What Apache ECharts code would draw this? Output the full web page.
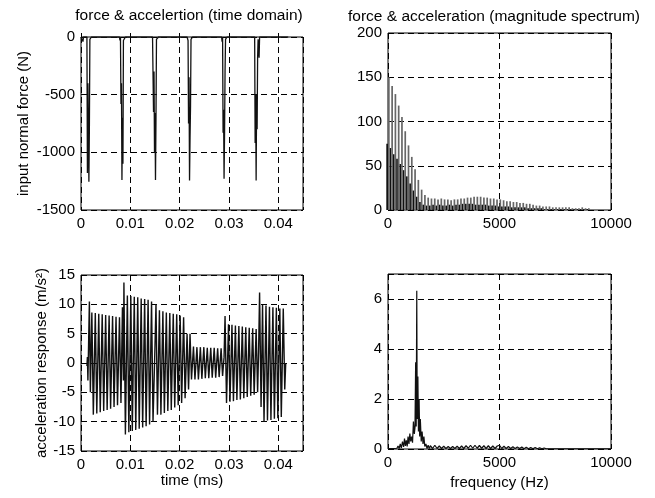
<!DOCTYPE html>
<html>
<head>
<meta charset="utf-8">
<script src="https://cdn.jsdelivr.net/npm/echarts@6/dist/echarts.min.js"></script>
<style>html,body{margin:0;padding:0;background:#fff;}#c{width:655px;height:498px;}</style>
</head>
<body>
<div id="c"></div>
<script>
// ---- data ----
const titleTop = ['force & accelertion (time domain)', 'force & acceleration (magnitude spectrum)'];
const xNames = ['time (ms)', 'frequency (Hz)'];
const yNames = ['input normal force (N)', 'acceleration response (m/s²)'];

// top-left: input force vs time
const forceTime = [0.0000,0.0003,0.0004,0.0005,0.0012,0.0013,0.0014,0.0015,0.0016,0.0017,0.0018,0.0020,0.0021,
  0.0078,0.0079,0.0080,0.0081,0.0082,0.0083,0.0084,0.0085,0.0086,0.0089,0.0090,
  0.0145,0.0147,0.0148,0.0149,0.0150,0.0151,0.0152,0.0153,0.0156,0.0157,
  0.0215,0.0217,0.0218,0.0219,0.0220,0.0221,0.0222,0.0223,0.0225,0.0226,
  0.0285,0.0286,0.0287,0.0288,0.0289,0.0290,0.0291,0.0292,0.0293,0.0295,0.0296,
  0.0352,0.0353,0.0354,0.0355,0.0356,0.0357,0.0358,0.0359,0.0361,0.0362,0.0420];
const forceValue = [0,0,-40,0,0,-1180,-400,-800,-1255,-780,-20,-20,0,
  0,-30,0,-580,-400,-1240,-700,-1100,-30,-20,0,
  0,-650,-300,-1000,-660,-1240,-700,-20,-20,0,
  0,-30,-750,-350,-1245,-880,-600,-20,-20,0,
  0,-40,0,-830,-630,-1230,-830,-300,-20,-20,0,
  0,-920,-500,-1245,-500,-800,-180,-20,-180,0,0];

// bottom-left: acceleration response vs time
const accelTime = [0.0012,0.0013,0.0014,0.0017,0.0019,0.0022,0.0025,0.0029,0.0032,0.0036,0.0039,0.0043,0.0046,0.0050,0.0053,0.0057,0.0060,0.0064,0.0067,0.0071,0.0074,0.0078,0.0081,
  0.0084,0.0086,0.0087,0.0090,0.0094,0.0097,0.0101,0.0104,0.0108,0.0111,0.0115,0.0118,0.0122,0.0125,0.0129,0.0132,0.0136,0.0139,0.0143,0.0146,
  0.0150,0.0152,0.0155,0.0159,0.0162,0.0166,0.0169,0.0173,0.0176,0.0180,0.0183,0.0187,0.0190,0.0194,0.0197,0.0201,0.0204,0.0208,0.0211,0.0215,0.0218,
  0.0221,0.0224,0.0228,0.0231,0.0235,0.0238,0.0242,0.0245,0.0249,0.0252,0.0256,0.0259,0.0263,0.0266,0.0270,0.0273,0.0277,0.0280,0.0284,0.0287,
  0.0290,0.0292,0.0295,0.0299,0.0302,0.0306,0.0309,0.0313,0.0316,0.0320,0.0323,0.0327,0.0330,0.0334,0.0337,0.0341,0.0344,0.0348,0.0351,0.0355,0.0358,
  0.0360,0.0362,0.0365,0.0368,0.0371,0.0375,0.0378,0.0382,0.0385,0.0389,0.0392,0.0396,0.0399,0.0403,0.0406,0.0410,0.0413,0.0415];
const accelValue = [-0.5,1.0,-3.0,10.5,-5.0,8.6,-8.8,8.5,-8.6,8.4,-8.4,8.3,-8.2,8.2,-8.0,8.1,-7.8,8.0,-7.5,7.9,-7.2,7.8,-6.8,
  9.5,-3.0,13.7,-12.2,11.5,-11.8,11.4,-11.6,11.3,-11.4,11.2,-11.2,11.0,-11.0,10.9,-10.8,10.8,-10.5,10.5,-10.0,
  3.0,10.0,-8.8,9.0,-8.8,8.8,-8.5,8.6,-8.2,8.5,-8.0,8.4,-7.6,8.3,-7.2,8.1,-6.8,7.8,-6.0,5.0,-4.5,
  5.0,-2.8,2.8,-2.8,2.7,-2.8,2.7,-2.7,2.7,-2.6,2.6,-2.6,2.6,-2.5,2.6,-2.5,2.5,-2.4,2.5,-2.2,
  1.0,8.0,-6.8,6.6,-6.6,6.5,-6.5,6.4,-6.3,6.3,-6.2,6.2,-6.0,6.1,-5.8,6.0,-5.6,5.9,-5.4,5.8,-5.0,
  2.0,12.0,-7.5,9.9,-10.0,9.8,-9.8,9.6,-9.7,9.5,-9.5,9.4,-9.4,9.3,-9.2,9.3,-4.5,0];

// top-right: magnitude spectrum (harmonics)
const specHz = [0,147,294,441,588,735,882,1029,1176,1323,1470,1617,1764,1911,2058,2205,2352,2499,2646,2793,2940,3087,3234,3381,3528,3675,3822,3969,4116,4263,4410,4557,4704,4851,4998,5145,5292,5439,5586,5733,5880,6027,6174,6321,6468,6615,6762,6909,7056,7203,7350,7497,7644,7791,7938,8085,8232,8379,8526,8673,8820,8967];
const specGray = [150,140,131,118,105,89,73,60,46,34, 23,17,14,13,13,12,13,12,12,11, 12,12,13,13,14,14,15,15,15,14, 14,13,13,12,12,11,10,10,9,9, 8,8,7,7,6,5,5,4,4,4, 3,3,3,3,3,3,2,2,2,3, 2,2];
const specBlack = [75,70,63,58,52,45,38,30,22,15, 9,6,5,5,6,5,6,5,5,6, 5,6,6,7,7,7,7,6,6,6, 6,5,5,5,4,4,4,4,3,3, 3,3,3,2,2,2,2,2,1,1, 1,1,1,1,1,1,1,1,1,1, 1,1];

// bottom-right: acceleration magnitude spectrum
const accSpecHz = [0,150,300,400,450,500,550,600,650,700,740,780,820,860,900,940,980,1020,1060,1100,1140,1180,1210,1240,1265,1290,1310,1340,1365,1395,1420,1450,1490,1530,1570,1610,1650,1700,1750,1800,1850,1900,2000,2100,2200,2300,2400,2500,2600,2700,2800,2900,3000,3100,3200,3300,3400,3500,3600,3700,3800,3900,4000,4100,4200,4300,4400,4500,4600,4700,4800,4900,5000,5100,5200,5300,5400,5500,5600,5700,5800,5900,6000,6100,6200,6300,6400,6500,6600,6700,6800,6900,7000,7100,8000,9000,10000];
const accSpecMag = [0.02,0.02,0.02,0.03,0.12,0.02,0.2,0.04,0.3,0.08,0.42,0.12,0.35,0.1,0.5,0.2,0.62,0.3,0.5,0.25,1.1,0.6,0.85,3.47,0.9,6.33,1.2,2.9,0.7,2.0,0.5,1.2,0.3,0.7,0.2,0.5,0.1,0.2,0.02,0.15,0.02,0.13,0.02,0.15,0.02,0.12,0.02,0.11,0.02,0.1,0.02,0.1,0.02,0.11,0.02,0.12,0.02,0.13,0.03,0.15,0.03,0.15,0.03,0.14,0.03,0.13,0.02,0.13,0.02,0.12,0.02,0.12,0.15,0.02,0.11,0.02,0.1,0.02,0.09,0.02,0.08,0.02,0.08,0.01,0.07,0.01,0.06,0.01,0.06,0.01,0.05,0.01,0.04,0.01,0.01,0.01,0.01];

// ---- chart ----
const FF = "'Liberation Sans', Arial, sans-serif";
const zip = (a, b) => a.map((v, i) => [v, b[i]]);
const fmt = v => String(+(+v).toFixed(4));
const FS = 15;

function ax(grid, min, max, interval, name, gap) {
  const onTick = Math.abs(max / interval - Math.round(max / interval)) < 1e-9;
  return {
    type: 'value', gridIndex: grid, min, max, interval,
    name: name || '', nameLocation: 'middle', nameGap: gap || 0,
    nameTextStyle: { color: '#000', fontSize: FS, fontFamily: FF },
    axisLine: { show: false },
    axisTick: { show: true, inside: true, length: 4, lineStyle: { color: '#000' } },
    axisLabel: { color: '#000', fontSize: FS, fontFamily: FF, margin: 6, formatter: fmt, showMaxLabel: onTick },
    splitLine: { show: true, lineStyle: { color: '#000', type: [6, 4], width: 1 } }
  };
}

const grids = [
  { left: 81, top: 37, width: 222, height: 173 },
  { left: 388, top: 33, width: 223, height: 177 },
  { left: 81, top: 275, width: 222, height: 176 },
  { left: 388, top: 274, width: 223, height: 175 }
].map(g => Object.assign(g, { show: true, borderColor: '#000', borderWidth: 1, backgroundColor: 'transparent' }));

const option = {
  backgroundColor: '#fff',
  animation: false,
  textStyle: { fontFamily: FF },
  graphic: [
    { type: 'text', x: 189, y: 16, style: { text: titleTop[0], textAlign: 'center', textVerticalAlign: 'middle', fontSize: 15.5, fontFamily: FF, fill: '#000' } },
    { type: 'text', x: 494, y: 17, style: { text: titleTop[1], textAlign: 'center', textVerticalAlign: 'middle', fontSize: 15.5, fontFamily: FF, fill: '#000' } }
  ],
  grid: grids,
  xAxis: [
    ax(0, 0, 0.045, 0.01),
    ax(1, 0, 10000, 5000),
    ax(2, 0, 0.045, 0.01, xNames[0], 19),
    ax(3, 0, 10000, 5000, xNames[1], 26)
  ],
  yAxis: [
    ax(0, -1500, 0, 500, yNames[0], 50),
    ax(1, 0, 200, 50),
    ax(2, -15, 15, 5, yNames[1], 30),
    ax(3, 0, 7, 2)
  ],
  series: [
    { type: 'line', xAxisIndex: 0, yAxisIndex: 0, data: zip(forceTime, forceValue), showSymbol: false,
      lineStyle: { color: '#111', width: 1.3 }, clip: true },
    { type: 'bar', xAxisIndex: 1, yAxisIndex: 1, data: zip(specHz, specBlack), barWidth: 1.7, barGap: '0%',
      itemStyle: { color: '#111' }, clip: true },
    { type: 'bar', xAxisIndex: 1, yAxisIndex: 1, data: zip(specHz, specGray), barWidth: 1.7, barGap: '0%',
      itemStyle: { color: '#666' }, clip: true },
    { type: 'line', xAxisIndex: 2, yAxisIndex: 2, data: zip(accelTime, accelValue), showSymbol: false,
      lineStyle: { color: '#111', width: 1.4 }, clip: true },
    { type: 'line', xAxisIndex: 3, yAxisIndex: 3, data: zip(accSpecHz, accSpecMag), showSymbol: false,
      lineStyle: { color: '#111', width: 1.2 }, clip: true }
  ]
};
const chart = echarts.init(document.getElementById('c'), null, { renderer: 'canvas' });
chart.setOption(option);
</script>
</body>
</html>
